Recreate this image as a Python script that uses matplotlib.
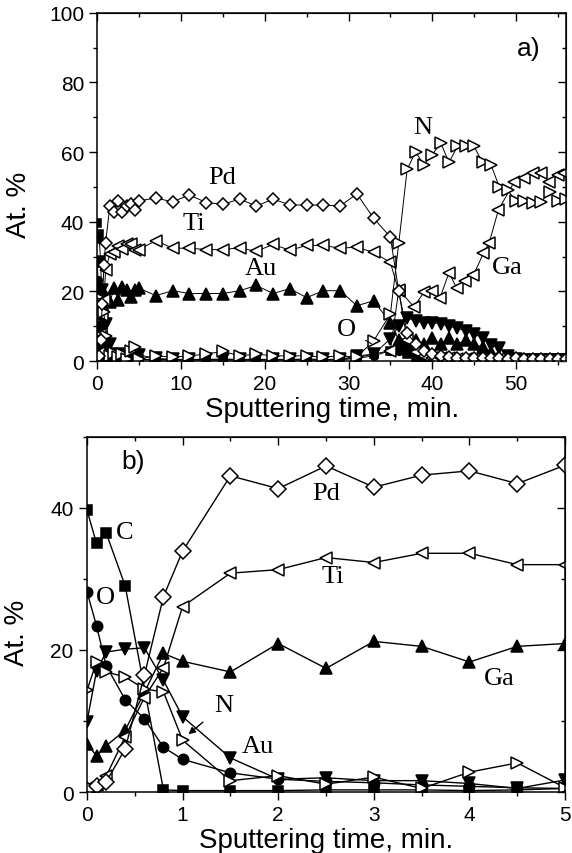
import matplotlib.pyplot as plt
from matplotlib.ticker import MultipleLocator

# ---- panel b data (first 5 min), also the start of panel a ----
t_b = [0, 0.1, 0.2, 0.4, 0.6, 0.8, 1, 1.5, 2, 2.5, 3, 3.5, 4, 4.5, 5]
t_c = [0, 0.1, 0.2, 0.4, 0.8, 1, 1.5, 2, 2.5, 3, 3.5, 4, 4.5, 5]
c_b = [39.7, 35.0, 36.5, 29.0, 0.3, 0.2, 0.2, 0.2, 0.3, 0.3, 0.3, 0.2, 0.3, 0.5]
o_b = [28.2, 23.4, 17.8, 13.0, 10.3, 6.3, 4.6, 2.7, 1.8, 1.5, 1.3, 1.0, 0.8, 0.6, 0.5]
au_b = [9.9, 17.0, 19.7, 20.1, 20.3, 15.7, 10.6, 4.8, 1.8, 2.0, 1.6, 1.6, 1.2, 0.5, 1.7]
ga_b = [6.8, 5.1, 6.5, 8.7, 14.0, 19.5, 18.4, 16.9, 20.9, 17.4, 21.2, 20.5, 18.3, 20.5, 20.9]
n_b = [14.3, 18.3, 16.9, 16.2, 14.5, 14.1, 7.3, 1.6, 2.3, 1.1, 2.1, 0.5, 2.8, 4.1, 0.6]
pd_b = [0.3, 0.8, 1.4, 6.1, 16.4, 27.5, 33.9, 44.5, 42.7, 45.9, 42.9, 44.6, 45.2, 43.4, 46.0]
ti_b = [0.5, 1.0, 2.2, 7.8, 13.3, 17.5, 26.1, 30.8, 31.3, 33.0, 32.3, 33.6, 33.6, 32.0, 32.0]

# ---- panel a data after 5 min ----
t_late = [7, 9, 11, 13, 15, 17, 19, 21, 23, 25, 27, 29, 31, 33,
          35, 36, 37, 38, 39, 40, 41, 42, 43, 44, 45, 46, 47, 48, 49, 50, 51, 52, 53, 54, 55, 56]
pd_late = [46.8, 45.7, 47.7, 45.5, 45.0, 46.5, 44.5, 46.5, 44.8, 44.8, 44.8, 44.5, 48.0, 41.0,
           35.6, 20.0, 8.0, 5.0, 3.0, 2.0, 1.5, 1.2, 1.0, 1.0, 0.8, 0.8, 1.0, 0.8, 0.6, 0.8, 0.6, 0.6, 0.5, 0.6, 0.5, 0.5]
ti_late = [34.6, 32.4, 32.4, 32.0, 32.0, 32.5, 31.5, 33.5, 31.8, 33.2, 33.2, 32.4, 32.7, 31.2,
           28.3, 20.0, 6.0, 2.5, 1.5, 1.0, 0.8, 0.8, 0.6, 0.6, 0.5, 0.5, 0.5, 0.5, 0.4, 0.4, 0.4, 0.4, 0.4, 0.4, 0.4, 0.4]
up_late = [18.8, 20.2, 19.4, 19.4, 19.4, 20.2, 21.7, 19.4, 20.8, 18.2, 20.2, 20.2, 15.9, 17.3,
           11.0, 6.0, 5.0, 6.0, 5.0, 6.5, 5.0, 6.5, 5.0, 6.0, 5.0, 4.0, 2.5, 1.0, 0.5, 0.3, 0.2, 0.2, 0.2, 0.2, 0.2, 0.2]
down_late = [0.8, 0.5, 0.5, 0.5, 0.6, 0.5, 0.5, 0.5, 0.5, 0.6, 0.5, 0.5, 1.5, 2.0,
             6.4, 10.0, 12.4, 11.5, 11.0, 11.0, 10.7, 10.0, 9.5, 8.5, 7.8, 6.6, 4.5, 3.8, 1.5, 0.5, 0.3, 0.3, 0.3, 0.3, 0.3, 0.3]
n_late = [1.5, 1.2, 1.5, 2.0, 2.8, 1.5, 2.0, 1.5, 1.5, 1.5, 1.2, 1.5, 1.2, 5.8,
          13.5, 33.8, 55.0, 60.0, 56.4, 59.2, 62.7, 57.0, 61.6, 61.6, 61.6, 57.0, 56.4, 50.0, 49.0, 46.0, 46.0, 45.4, 45.7, 48.6, 46.0, 46.5]
o_late = [0.5, 0.4, 0.4, 0.4, 0.4, 0.4, 0.4, 0.4, 0.4, 0.4, 0.4, 0.5, 0.8, 1.5,
          3.0, 3.0, 2.5, 2.0, 1.5, 1.0, 0.8, 0.6, 0.5, 0.5, 0.4, 0.4, 0.4, 0.3, 0.3, 0.3, 0.3, 0.3, 0.3, 0.3, 0.3, 0.3]
c_late = [0.3, 0.3, 0.3, 0.3, 0.3, 0.3, 0.3, 0.3, 0.3, 0.3, 0.3, 0.3, 1.0, 2.0,
          3.0, 3.5, 2.0, 1.0, 0.5, 0.3, 0.3, 0.3, 0.3, 0.3, 0.3, 0.3, 0.3, 0.3, 0.3, 0.3, 0.3, 0.3, 0.3, 0.3, 0.3, 0.3]
t_rise = [35, 36, 37.8, 39, 40, 40.9, 42, 42.9, 43.9, 44.9, 46.1, 46.8, 47.9, 49.8, 51, 52, 53, 53.9, 55, 55.7]
ga_rise = [3.0, 20.5, 15.6, 19.7, 20.0, 18.0, 25.4, 21.0, 23.0, 24.6, 30.9, 34.0, 43.4, 51.5, 52.6, 54.0, 54.0, 51.5, 53.5, 54.0]

SANS = 'Liberation Sans'
SERIF = 'Liberation Serif'
plt.rcParams['font.family'] = SANS


def style_axes(ax, xmaj, xmin, ymaj, ymin):
    ax.xaxis.set_major_locator(MultipleLocator(xmaj))
    ax.xaxis.set_minor_locator(MultipleLocator(xmin))
    ax.yaxis.set_major_locator(MultipleLocator(ymaj))
    ax.yaxis.set_minor_locator(MultipleLocator(ymin))
    ax.tick_params(which='major', direction='out', length=6, width=1, labelsize=15)
    ax.tick_params(which='minor', direction='out', length=3, width=1)
    for s in ax.spines.values():
        s.set_linewidth(1.1)
    top = ax.secondary_xaxis('top')
    right = ax.secondary_yaxis('right')
    for sec, axis in ((top, top.xaxis), (right, right.yaxis)):
        axis.set_major_locator(MultipleLocator(xmaj if sec is top else ymaj))
        axis.set_minor_locator(MultipleLocator(xmin if sec is top else ymin))
        sec.tick_params(which='major', direction='in', length=6, width=1)
        sec.tick_params(which='minor', direction='in', length=3, width=1)
        sec.tick_params(labeltop=False, labelright=False)


fig = plt.figure(figsize=(5.72, 8.54), dpi=100)

# ---------------- panel a ----------------
ax = fig.add_axes([0.170, 0.576, 0.820, 0.408])
lw, ms, mew = 0.7, 7.0, 1.1
ta = t_b + t_late
ax.plot(t_c + t_late, c_b + c_late, 's-', color='black', lw=lw, ms=ms - 1.5, mew=mew)
ax.plot(ta, o_b + o_late, 'o-', color='black', lw=lw, ms=ms - 1.5, mew=mew)
ax.plot(ta, ga_b + up_late, '^-', color='black', lw=lw, ms=ms + 1, mew=mew)
ax.plot(ta, au_b + down_late, 'v-', color='black', lw=lw, ms=ms + 1, mew=mew)
ax.plot(ta, ti_b + ti_late, '<-', color='black', mfc='white', lw=lw, ms=ms + 1, mew=mew)
ax.plot(t_rise, ga_rise, '<-', color='black', mfc='white', lw=lw, ms=ms + 1, mew=mew)
ax.plot(ta, n_b + n_late, '>-', color='black', mfc='white', lw=lw, ms=ms + 1, mew=mew)
ax.plot(ta, pd_b + pd_late, 'D-', color='black', mfc='white', lw=lw, ms=ms - 0.5, mew=mew)
ax.set_xlim(0, 56)
ax.set_ylim(0, 100)
style_axes(ax, 10, 5, 20, 10)
ax.set_xlabel('Sputtering time, min.', fontsize=20, labelpad=2)
ax.set_ylabel('At. %', fontsize=20)
ax.yaxis.set_label_coords(-0.14, 0.45)

lab = dict(fontsize=19, family=SERIF, ha='center', va='center')
ax.text(14.9, 52.9, 'Pd', **lab)
ax.text(11.5, 39.6, 'Ti', **lab)
ax.text(19.5, 26.6, 'Au', **lab)
ax.text(38.9, 67.3, 'N', **lab)
ax.text(48.9, 27.0, 'Ga', **lab)
ax.annotate('O', xy=(33.0, 4.6), xytext=(29.7, 9.2), fontsize=19, family=SERIF,
            ha='center', va='center',
            arrowprops=dict(arrowstyle='-', lw=0.8, color='black', shrinkA=6, shrinkB=2))
ax.text(51.5, 90, 'a)', fontsize=19, ha='center', va='center')

# ---------------- panel b ----------------
bx = fig.add_axes([0.152, 0.0714, 0.836, 0.416])
lw, ms, mew = 1.0, 8.5, 1.1
bx.plot(t_c, c_b, 's-', color='black', lw=lw, ms=7, mew=mew)
bx.plot(t_b, o_b, 'o-', color='black', lw=lw, ms=7.5, mew=mew)
bx.plot(t_b, ga_b, '^-', color='black', lw=lw, ms=ms, mew=mew)
bx.plot(t_b, au_b, 'v-', color='black', lw=lw, ms=ms, mew=mew)
bx.plot(t_b, ti_b, '<-', color='black', mfc='white', lw=lw, ms=ms, mew=mew)
bx.plot(t_b, n_b, '>-', color='black', mfc='white', lw=lw, ms=ms, mew=mew)
bx.plot(t_b, pd_b, 'D-', color='black', mfc='white', lw=lw, ms=8, mew=mew)
bx.set_xlim(0, 5)
bx.set_ylim(0, 50)
style_axes(bx, 1, 0.5, 20, 10)
bx.set_xlabel('Sputtering time, min.', fontsize=20, labelpad=2)
bx.set_ylabel('At. %', fontsize=20)
bx.yaxis.set_label_coords(-0.12, 0.45)

bx.text(0.39, 36.6, 'C', **lab)
bx.text(0.19, 27.5, 'O', **lab)
bx.text(2.50, 42.1, 'Pd', **lab)
bx.text(2.57, 30.4, 'Ti', **lab)
bx.text(4.31, 16.0, 'Ga', **lab)
bx.text(1.79, 6.5, 'Au', **lab)
bx.annotate('N', xy=(1.05, 8.0), xytext=(1.43, 12.3), fontsize=19, family=SERIF,
            ha='center', va='center',
            arrowprops=dict(arrowstyle='-|>', lw=1.0, color='black', shrinkA=8, shrinkB=1,
                            mutation_scale=10))
bx.text(0.48, 46.6, 'b)', fontsize=19, ha='center', va='center')

fig.savefig('out.png', dpi=100)
